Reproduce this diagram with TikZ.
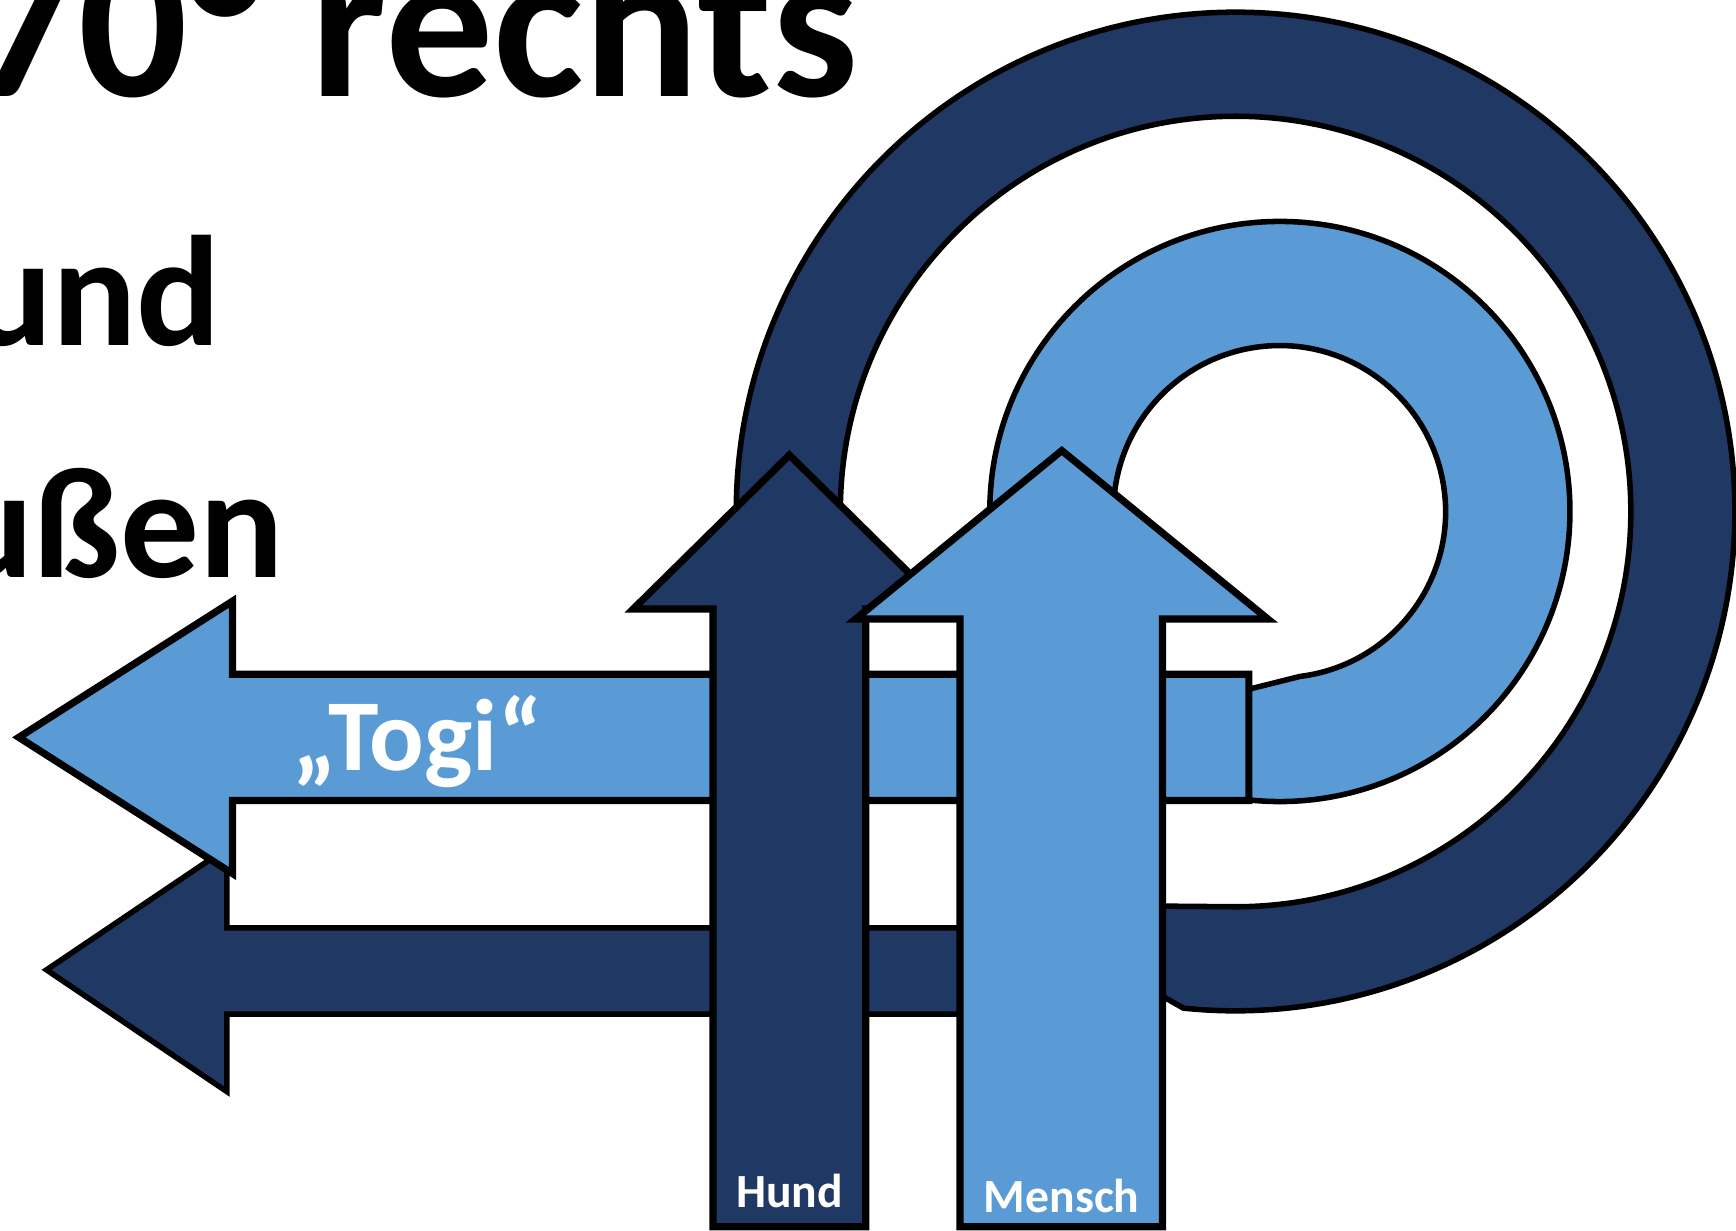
\documentclass[tikz,border=0pt]{standalone}
\usepackage{fontspec}
\setmainfont{Carlito}
\definecolor{navy}{HTML}{203864}
\definecolor{sky}{HTML}{5B9BD5}

\begin{document}
\begin{tikzpicture}[x=1pt,y=-1pt,
    dark/.style={fill=navy,draw=black,line width=6.5pt},
    light/.style={fill=sky,draw=black,line width=6.5pt},
    loop/.style={draw=black,line width=5pt},
    big/.style={font=\fontsize{142}{142}\selectfont\bfseries,anchor=base east,inner sep=0},
    tag/.style={font=\fontsize{43}{43}\selectfont\bfseries,text=white,anchor=base,inner sep=0}]
    \useasboundingbox (0,0) rectangle (1568,1111);

    \node[big,font=\fontsize{195}{195}\selectfont\bfseries] (rechts) at (776,87) {70° rechts};
    \node[big] (und)  at (200,312) {und};
    \node[big] (ussen) at (257,522) {ußen};

    \draw[loop,fill=navy] (42,876) -- (205,766) -- (205,838) -- (1000,838) -- (1000,818) -- (1116,819)
        arc[start angle=450,end angle=180,radius=357] -- (665,462)
        arc[start angle=180,end angle=456,radius=451] -- (1052,901) -- (1000,916)
        -- (205,916) -- (205,986) -- cycle;                 % Hund loop, out to the left
    \draw[loop,fill=sky] (1126,623) -- (1174,611)
        arc[start angle=443,end angle=180,radius=150] -- (894,462)
        arc[start angle=180,end angle=456.4,radius=262] -- cycle; % Mensch loop
    \draw[light] (17,666) -- (210,543) -- (210,609) -- (1128,609) -- (1128,723)
        -- (210,723) -- (210,789) -- cycle;                  % Togi
    \draw[dark] (713,411) -- (854,550) -- (782,550) -- (782,1108) -- (644,1108)
        -- (644,550) -- (572,550) -- cycle;                  % Hund
    \draw[light] (959,407) -- (1145,559) -- (1050,559) -- (1050,1108) -- (867,1108)
        -- (867,559) -- (773,559) -- cycle;                  % Mensch

    \node[tag,font=\fontsize{92}{92}\selectfont\bfseries] (togi) at (377,696) {„Togi“};
    \node[tag] (hund)   at (713,1091) {Hund};
    \node[tag] (mensch) at (959,1095) {Mensch};
\end{tikzpicture}
\end{document}
